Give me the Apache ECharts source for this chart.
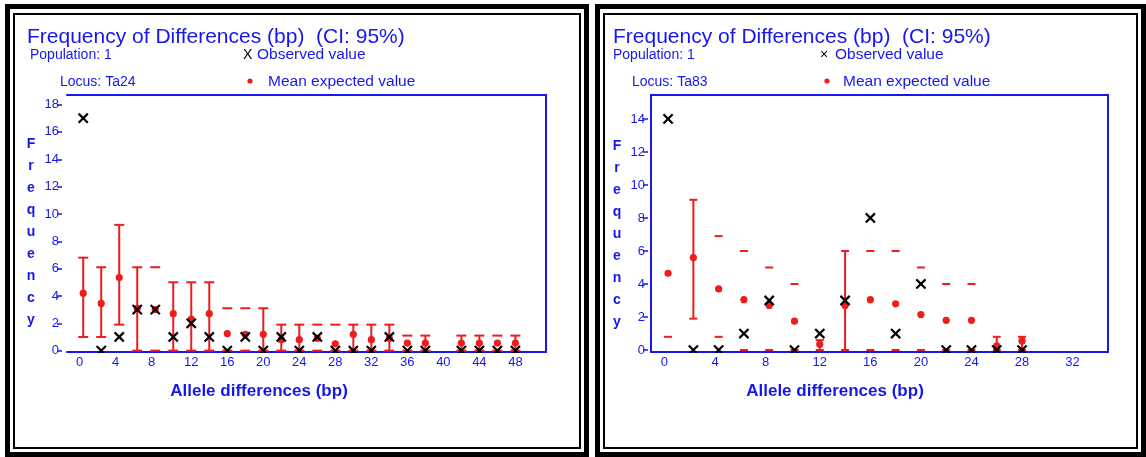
<!DOCTYPE html>
<html>
<head>
<meta charset="utf-8">
<title>Frequency of Differences</title>
<script src="https://cdn.jsdelivr.net/npm/echarts@6/dist/echarts.min.js"></script>
<style>
    html, body { margin: 0; padding: 0; background: #fff; }
    #chart { width: 1146px; height: 457px; }
</style>
</head>
<body>
<div id="chart"></div>
<script>
// left panel: locus Ta24
var leftX        = [0, 2, 4, 6, 8, 10, 12, 14, 16, 18, 20, 22, 24, 26, 28, 30, 32, 34, 36, 38, 42, 44, 46, 48];
var leftObserved = [17, 0, 1, 3, 3, 1, 2, 1, 0, 1, 0, 1, 0, 1, 0, 0, 0, 1, 0, 0, 0, 0, 0, 0];
var leftExpected = [4.2, 3.45, 5.35, 3.1, 3.0, 2.7, 2.3, 2.7, 1.25, 1.2, 1.2, 0.8, 0.8, 0.9, 0.5, 1.2, 0.8, 0.9, 0.55, 0.55, 0.55, 0.55, 0.55, 0.55];
var leftLow      = [1, 1, 1.9, 0, 0, 0, 0, 0, 0, 0, 0, 0, 0, 0, 0, 0, 0, 0, 0, 0, 0, 0, 0, 0];
var leftHigh     = [6.8, 6.1, 9.2, 6.1, 6.1, 5, 5, 5, 3.1, 3.1, 3.1, 1.9, 1.9, 1.9, 1.9, 1.9, 1.9, 1.9, 1.1, 1.1, 1.1, 1.1, 1.1, 1.1];
var leftBarSeen  = [1, 1, 1, 1, 0, 1, 1, 1, 0, 0, 1, 1, 1, 0, 0, 1, 1, 1, 0, 1, 1, 1, 0, 1];
var leftXTicks   = [0, 4, 8, 12, 16, 20, 24, 28, 32, 36, 40, 44, 48];
var leftYTicks   = [0, 2, 4, 6, 8, 10, 12, 14, 16, 18];

// right panel: second locus
var rightX        = [0, 2, 4, 6, 8, 10, 12, 14, 16, 18, 20, 22, 24, 26, 28];
var rightObserved = [14, 0, 0, 1, 3, 0, 1, 3, 8, 1, 4, 0, 0, 0, 0];
var rightExpected = [4.65, 5.6, 3.7, 3.05, 2.7, 1.75, 0.35, 2.7, 3.05, 2.8, 2.15, 1.8, 1.8, 0.25, 0.55];
var rightLow      = [0.8, 1.9, 0.8, 0, 0, 0, 0, 0, 0, 0, 0, 0, 0, 0, 0];
var rightHigh     = [null, 9.1, 6.9, 6, 5, 4, 0.6, 6, 6, 6, 5, 4, 4, 0.8, 0.8];
var rightBarSeen  = [0, 1, 0, 0, 0, 0, 1, 1, 0, 0, 0, 0, 0, 1, 1];
var rightXTicks   = [0, 4, 8, 12, 16, 20, 24, 28, 32];
var rightYTicks   = [0, 2, 4, 6, 8, 10, 12, 14];

var BLUE = '#1616ee';
var RED = '#ee1c1c';
var FONT = '"Liberation Sans", Arial, sans-serif';

function rows(xs, obs, exp, lo, hi, seen) {
    return xs.map(function (x, i) {
        return [x, obs[i], exp[i], lo[i] == null ? '-' : lo[i], hi[i] == null ? '-' : hi[i], seen[i]];
    });
}

// clip everything to the plot box, so zero-valued crosses show only their upper half
function clipBox(params) {
    var c = params.coordSys;
    return { type: 'rect', shape: { x: c.x, y: c.y, width: c.width, height: c.height + 1 } };
}

function redMarks(capHalf) {
    return function (params, api) {
        var x = api.value(0), e = api.value(2), lo = api.value(3), hi = api.value(4), seen = api.value(5);
        var st = { stroke: RED, lineWidth: 2 };
        var kids = [];
        var pl = isNaN(lo) ? null : api.coord([x, lo]);
        var ph = isNaN(hi) ? null : api.coord([x, hi]);
        if (seen && pl && ph) {
            kids.push({ type: 'line', shape: { x1: pl[0], y1: pl[1], x2: ph[0], y2: ph[1] }, style: st });
        }
        [pl, ph].forEach(function (p) {
            if (p) kids.push({ type: 'line', shape: { x1: p[0] - capHalf, y1: p[1], x2: p[0] + capHalf, y2: p[1] }, style: st });
        });
        var pe = api.coord([x, e]);
        kids.push({ type: 'circle', shape: { cx: pe[0], cy: pe[1], r: 3.6 }, style: { fill: RED } });
        return { type: 'group', clipPath: clipBox(params), children: kids };
    };
}

function crossMarks(params, api) {
    var p = api.coord([api.value(0), api.value(1)]);
    var s = 4.6;
    var st = { stroke: '#000', lineWidth: 2.2 };
    return {
        type: 'group',
        clipPath: clipBox(params),
        children: [
            { type: 'line', shape: { x1: p[0] - s, y1: p[1] - s, x2: p[0] + s, y2: p[1] + s }, style: st },
            { type: 'line', shape: { x1: p[0] - s, y1: p[1] + s, x2: p[0] + s, y2: p[1] - s }, style: st }
        ]
    };
}

function xLabel(v) {
    return v < 10 ? v + '  ' : String(v);
}

var panels = [
    { grid: { left: 67, top: 95, width: 479, height: 257 }, xMin: -1.8, xMax: 51.4, yMin: -0.1, yMax: 18.7,
      xTicks: leftXTicks, yTicks: leftYTicks, yOffset: 5, leftLine: false, cap: 5,
      data: rows(leftX, leftObserved, leftExpected, leftLow, leftHigh, leftBarSeen) },
    { grid: { left: 651, top: 95, width: 457, height: 257 }, xMin: -1.35, xMax: 34.8, yMin: -0.12, yMax: 15.45,
      xTicks: rightXTicks, yTicks: rightYTicks, yOffset: 3, leftLine: true, cap: 4,
      data: rows(rightX, rightObserved, rightExpected, rightLow, rightHigh, rightBarSeen) }
];

var option = { animation: false, backgroundColor: '#fff', grid: [], xAxis: [], yAxis: [], series: [], graphic: [] };
var boxLine = { show: true, onZero: false, lineStyle: { color: BLUE, width: 2 } };

panels.forEach(function (p, k) {
    option.grid.push(p.grid);
    var xi = option.xAxis.length, yi = option.yAxis.length;
    option.xAxis.push({
        type: 'value', gridIndex: k, min: p.xMin, max: p.xMax, position: 'bottom',
        axisLine: boxLine, axisTick: { show: false }, splitLine: { show: false },
        axisLabel: { customValues: p.xTicks, color: BLUE, fontFamily: FONT, fontSize: 13, margin: 4, formatter: xLabel }
    });
    option.xAxis.push({
        type: 'value', gridIndex: k, min: p.xMin, max: p.xMax, position: 'top',
        axisLine: boxLine, axisTick: { show: false }, axisLabel: { show: false }, splitLine: { show: false }
    });
    option.yAxis.push({
        type: 'value', gridIndex: k, min: p.yMin, max: p.yMax, position: 'left', offset: p.yOffset,
        axisLine: { show: false, onZero: false }, splitLine: { show: false },
        axisTick: { show: true, customValues: p.yTicks, length: 5, lineStyle: { color: BLUE, width: 1.5 } },
        axisLabel: { customValues: p.yTicks, color: BLUE, fontFamily: FONT, fontSize: 13, margin: 3 }
    });
    option.yAxis.push({
        type: 'value', gridIndex: k, min: p.yMin, max: p.yMax, position: 'right',
        axisLine: boxLine, axisTick: { show: false }, axisLabel: { show: false }, splitLine: { show: false }
    });
    option.yAxis.push({
        type: 'value', gridIndex: k, min: p.yMin, max: p.yMax, position: 'left',
        axisLine: { show: p.leftLine, onZero: false, lineStyle: { color: BLUE, width: 2 } },
        axisTick: { show: false }, axisLabel: { show: false }, splitLine: { show: false }
    });
    option.series.push({
        type: 'custom', xAxisIndex: xi, yAxisIndex: yi, z: 3,
        renderItem: redMarks(p.cap), data: p.data
    });
    option.series.push({
        type: 'custom', xAxisIndex: xi, yAxisIndex: yi, z: 4,
        renderItem: crossMarks, data: p.data
    });
});

function txt(x, y, text, font, color, extra) {
    var s = { text: text, font: font, fill: color || BLUE, textVerticalAlign: 'middle' };
    for (var key in extra) s[key] = extra[key];
    return { type: 'text', x: x, y: y, style: s, silent: true };
}

function frame(x0, x1) {
    return [
        { type: 'rect', shape: { x: x0 + 2.5, y: 6.5, width: x1 - x0 - 5, height: 448 }, style: { fill: null, stroke: '#000', lineWidth: 5 } },
        { type: 'rect', shape: { x: x0 + 9, y: 14, width: x1 - x0 - 18, height: 434 }, style: { fill: null, stroke: '#000', lineWidth: 2 } }
    ];
}

var titleFont = '21px ' + FONT;
var smallFont = '14px ' + FONT;
var legendFont = '15.5px ' + FONT;
var nameFont = 'bold 17px ' + FONT;
var freqFont = 'bold 14px ' + FONT;
var freqText = 'F\nr\ne\nq\nu\ne\nn\nc\ny';

option.graphic = [].concat(
    frame(5, 589),
    frame(595, 1146),
    [
        txt(27, 37, 'Frequency of Differences (bp)  (CI: 95%)', titleFont),
        txt(30, 55, 'Population: 1', smallFont),
        txt(60, 82, 'Locus: Ta24', smallFont),
        txt(243, 55, 'X', smallFont, '#000'),
        txt(257, 55, 'Observed value', legendFont),
        { type: 'circle', shape: { cx: 250, cy: 81, r: 2.6 }, style: { fill: RED } },
        txt(268, 82, 'Mean expected value', legendFont),
        txt(31, 232, freqText, freqFont, BLUE, { lineHeight: 22, align: 'center' }),
        txt(259, 391, 'Allele differences (bp)', nameFont, BLUE, { align: 'center' }),

        txt(613, 37, 'Frequency of Differences (bp)  (CI: 95%)', titleFont),
        txt(613, 55, 'Population: 1', smallFont),
        txt(632, 82, 'Locus: Ta83', smallFont),
        txt(820, 55, '\u00d7', smallFont, '#000'),
        txt(835, 55, 'Observed value', legendFont),
        { type: 'circle', shape: { cx: 827, cy: 81, r: 2.6 }, style: { fill: RED } },
        txt(843, 82, 'Mean expected value', legendFont),
        txt(617, 234, freqText, freqFont, BLUE, { lineHeight: 22, align: 'center' }),
        txt(835, 391, 'Allele differences (bp)', nameFont, BLUE, { align: 'center' })
    ]
);

var chart = echarts.init(document.getElementById('chart'));
chart.setOption(option);
</script>
</body>
</html>
